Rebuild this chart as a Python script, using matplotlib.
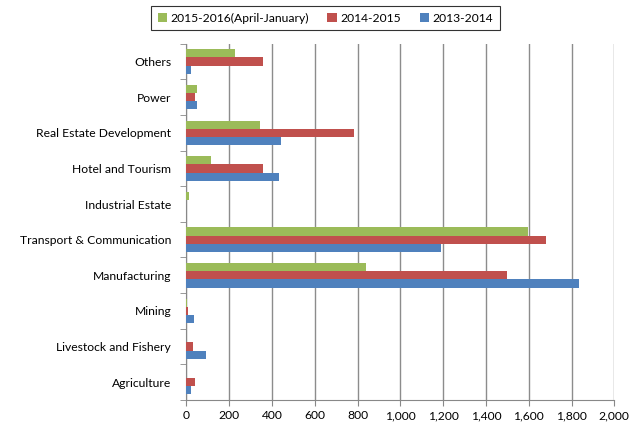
import matplotlib
matplotlib.use("Agg")
import matplotlib.pyplot as plt
import numpy as np

categories = ["Agriculture", "Livestock and Fishery", "Mining", "Manufacturing",
              "Transport & Communication", "Industrial Estate", "Hotel and Tourism",
              "Real Estate Development", "Power", "Others"]
v_2013 = [22, 91, 35, 1836, 1190, 0, 434, 441, 48, 20]
v_2014 = [41, 29, 7, 1500, 1679, 0, 357, 781, 40, 357]
v_2015 = [0, 0, 1, 838, 1598, 10, 114, 346, 48, 226]
series_labels = ["2015-2016(April-January)", "2014-2015", "2013-2014"]
colors = ["#9BBB59", "#C0504D", "#4F81BD"]

plt.rcParams['font.family'] = ['Lato', 'DejaVu Sans']
fig = plt.figure(figsize=(6.32, 4.25), dpi=100)
ax = fig.add_axes([0.295, 0.059, 0.677, 0.838])

y = np.arange(len(categories))
h = 0.23
ax.barh(y + h, v_2015, height=h, color=colors[0], label=series_labels[0], zorder=3)
ax.barh(y, v_2014, height=h, color=colors[1], label=series_labels[1], zorder=3)
ax.barh(y - h, v_2013, height=h, color=colors[2], label=series_labels[2], zorder=3)

fs = 8.7
ax.set_xlim(0, 2000)
ax.set_ylim(-0.5, len(categories) - 0.5)
ax.set_xticks(np.arange(0, 2001, 200))
ax.set_xticklabels([f"{v:,}" for v in range(0, 2001, 200)], fontsize=fs)
ax.set_yticks(y)
ax.set_yticklabels(categories, fontsize=fs)
ax.set_yticks(np.arange(-0.5, len(categories), 1), minor=True)
ax.tick_params(axis='y', which='major', length=0, pad=11)
ax.tick_params(axis='y', which='minor', length=4, color='#888888')
ax.tick_params(axis='x', length=4, color='#888888')
ax.grid(axis='x', color='#8c8c8c', linewidth=1, zorder=0)
for s in ['top', 'right']:
    ax.spines[s].set_visible(False)
ax.spines['left'].set_color('#888888')
ax.spines['bottom'].set_color('#888888')

leg = fig.legend(loc='center', bbox_to_anchor=(0.515, 0.957), ncol=3, fontsize=fs,
                 frameon=True, fancybox=False, edgecolor='black', handlelength=0.8,
                 handleheight=0.8, handletextpad=0.3, columnspacing=1.5,
                 borderpad=0.55)
leg.get_frame().set_linewidth(0.8)

fig.savefig("out.png", dpi=100)
